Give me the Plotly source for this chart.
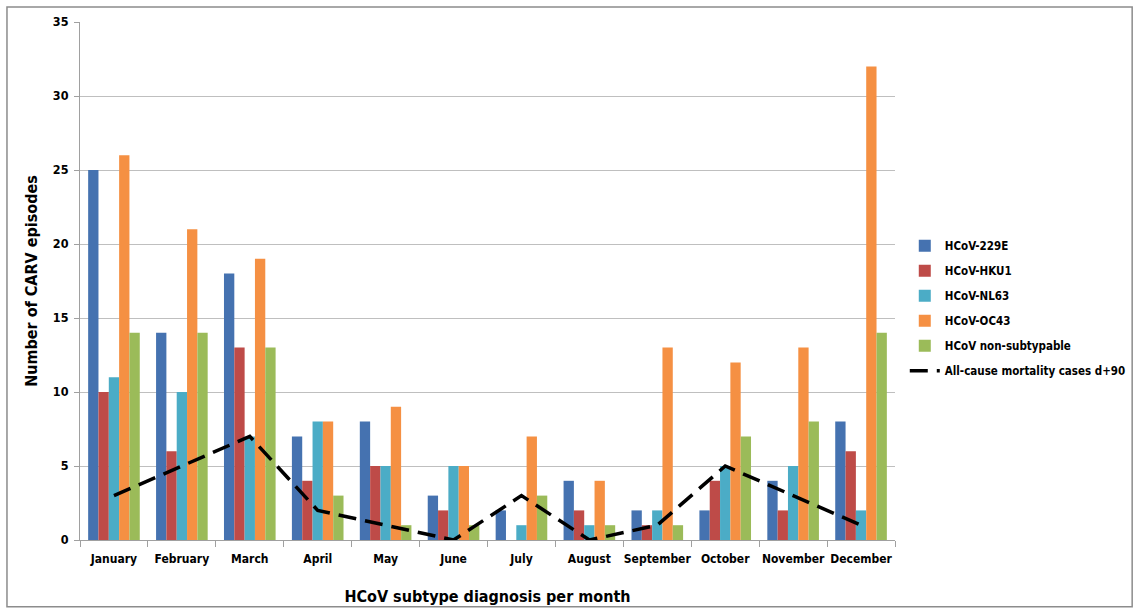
import plotly.graph_objects as go

months = ["January", "February", "March", "April", "May", "June", "July",
          "August", "September", "October", "November", "December"]
hcov_229e = [25, 14, 18, 7, 8, 3, 2, 4, 2, 2, 4, 8]
hcov_hku1 = [10, 6, 13, 4, 5, 2, 0, 2, 1, 4, 2, 6]
hcov_nl63 = [11, 10, 7, 8, 5, 5, 1, 1, 2, 5, 5, 2]
hcov_oc43 = [26, 21, 19, 8, 9, 5, 7, 4, 13, 12, 13, 32]
hcov_nonsub = [14, 14, 13, 3, 1, 1, 3, 1, 1, 7, 8, 14]
mortality = [3, 5, 7, 2, 1, 0, 3, 0, 1, 5, 3, 1]

series = [
    ("HCoV-229E", hcov_229e, "#4572B0"),
    ("HCoV-HKU1", hcov_hku1, "#BE4B48"),
    ("HCoV-NL63", hcov_nl63, "#4BACC6"),
    ("HCoV-OC43", hcov_oc43, "#F59043"),
    ("HCoV non-subtypable", hcov_nonsub, "#9BBB59"),
]

FONT = "'DejaVu Sans Condensed', 'Liberation Sans Narrow', Arial, sans-serif"

fig = go.Figure()
for i, (name, vals, col) in enumerate(series):
    fig.add_trace(go.Bar(x=months, y=vals, name=name, marker_color=col,
                         marker_line_width=0, legendgroup=f"g{i}"))
fig.add_trace(go.Scatter(x=months, y=mortality, name="All-cause mortality cases d+90",
                         mode="lines", legendgroup="g5",
                         line=dict(color="black", width=3.5, dash="18px,9px")))

fig.update_layout(
    width=1136, height=610,
    margin=dict(l=80, r=241, t=22, b=70, autoexpand=False),
    paper_bgcolor="white", plot_bgcolor="white",
    barmode="group", bargap=0.24, bargroupgap=0,
    font=dict(family=FONT, size=12, color="black"),
    showlegend=True,
    legend=dict(x=1.012, y=0.596, xanchor="left", yanchor="top",
                font=dict(size=11.5, color="black", family=FONT, weight="bold"),
                tracegroupgap=6, itemwidth=30, bgcolor="rgba(0,0,0,0)"),
    xaxis=dict(
        title=dict(text="<b>HCoV subtype diagnosis per month</b>",
                   font=dict(size=16, family=FONT), standoff=25),
        tickfont=dict(size=12, weight="bold", family=FONT),
        tickangle=0, automargin=False, ticklabelstandoff=8,
        showline=True, linecolor="#A0A0A0", linewidth=1,
        ticks="outside", tickson="boundaries", ticklen=6, tickcolor="#A0A0A0",
        showgrid=False,
    ),
    yaxis=dict(
        title=dict(text="<b>Number of CARV episodes</b>",
                   font=dict(size=16, family=FONT), standoff=11),
        tickfont=dict(size=12.5, weight="bold", family=FONT),
        range=[0, 35], dtick=5, automargin=False, ticklabelstandoff=3,
        showline=True, linecolor="#A0A0A0", linewidth=1,
        ticks="outside", ticklen=5, tickcolor="#A0A0A0",
        showgrid=True, gridcolor="#BFBFBF", gridwidth=1,
        zeroline=False,
    ),
    shapes=[dict(type="rect", xref="paper", yref="paper",
                 x0=-0.0896, x1=1.291, y0=-0.129, y1=1.029,
                 line=dict(color="#8C8C8C", width=1.5), fillcolor="rgba(0,0,0,0)")],
)

fig.write_html("out.html", config={"displayModeBar": False},
               post_script="document.body.style.margin='0';document.body.style.padding='0';")
